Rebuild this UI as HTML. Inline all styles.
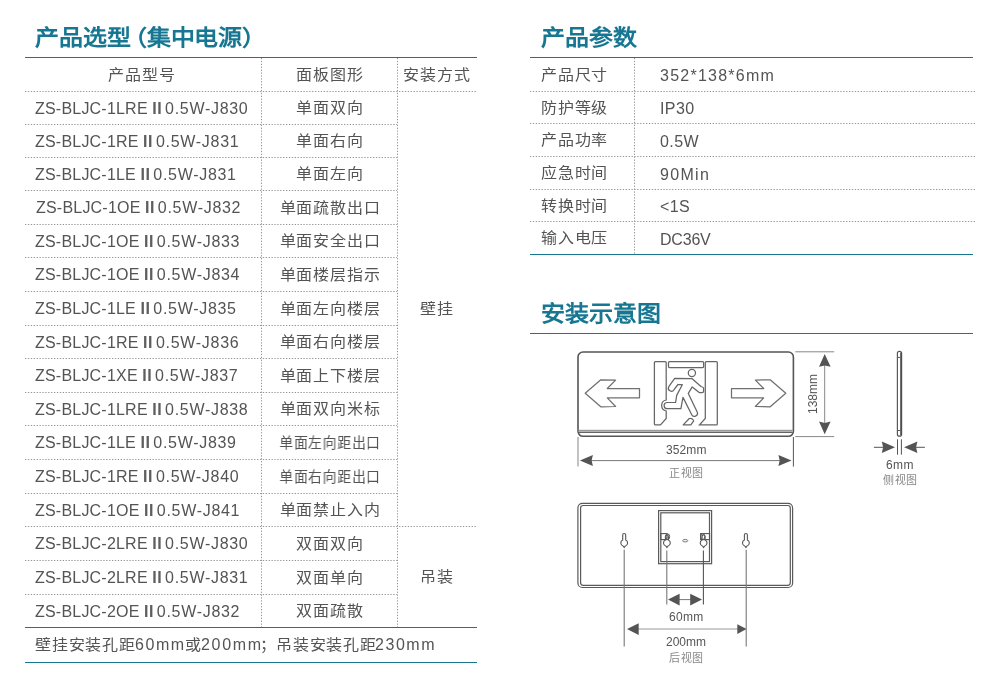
<!DOCTYPE html>
<html lang="zh-CN"><head><meta charset="utf-8"><title>产品选型</title>
<style>
html,body{margin:0;padding:0;background:#fff;}
body{width:994px;height:687px;position:relative;overflow:hidden;font-family:"Liberation Sans",sans-serif;color:#545454;}
.t{position:absolute;white-space:nowrap;will-change:transform;}
.h{font-weight:bold;color:#177792;font-size:22px;line-height:30px;letter-spacing:0px;transform:scaleX(1.09);transform-origin:0 0;}
.c{font-size:15px;letter-spacing:0.75px;line-height:20px;transform:scaleX(1.067);transform-origin:0 0;}
.cc{transform-origin:50% 0;}
.m{font-size:16px;letter-spacing:0.4px;line-height:20px;}
.cc{text-align:center;}
.ma{letter-spacing:0.21px}.mb{letter-spacing:0.7px}
.r{font-weight:bold;letter-spacing:0.55px;margin:0 2.9px 0 4.4px;color:#5e5e5e}
svg{position:absolute;left:0;top:0;}
.s{font-size:12px;line-height:14px;color:#555;}
.s2{font-size:11px;line-height:14px;color:#888;letter-spacing:0.5px;}
</style></head><body>

<div class="t h" style="left:35px;top:23px">产品选型<span style="margin-left:-7.7px">（集中电源）</span></div>
<div class="t h" style="left:540.5px;top:23px">产品参数</div>
<div class="t h" style="left:541px;top:299px">安装示意图</div>
<div class="t c cc" style="left:23.7px;width:236px;top:64.7px">产品型号</div>
<div class="t c cc" style="left:262px;width:136px;top:64.7px">面板图形</div>
<div class="t c cc" style="left:398px;width:78px;top:64.7px">安装方式</div>
<div class="t m" style="left:34.8px;top:98.8px"><span class="ma">ZS-BLJC-1LRE</span><b class="r">II</b><span class="mb">0.5W-J830</span></div>
<div class="t c cc" style="left:262px;width:136px;top:98.2px">单面双向</div>
<div class="t m" style="left:34.8px;top:131.8px"><span class="ma">ZS-BLJC-1RE</span><b class="r">II</b><span class="mb">0.5W-J831</span></div>
<div class="t c cc" style="left:262px;width:136px;top:131.2px">单面右向</div>
<div class="t m" style="left:34.8px;top:164.8px"><span class="ma">ZS-BLJC-1LE</span><b class="r">II</b><span class="mb">0.5W-J831</span></div>
<div class="t c cc" style="left:262px;width:136px;top:164.2px">单面左向</div>
<div class="t m" style="left:35.7px;top:198.3px"><span class="ma">ZS-BLJC-1OE</span><b class="r">II</b><span class="mb">0.5W-J832</span></div>
<div class="t c cc" style="left:262px;width:136px;top:197.7px">单面疏散出口</div>
<div class="t m" style="left:34.8px;top:231.8px"><span class="ma">ZS-BLJC-1OE</span><b class="r">II</b><span class="mb">0.5W-J833</span></div>
<div class="t c cc" style="left:262px;width:136px;top:231.2px">单面安全出口</div>
<div class="t m" style="left:34.8px;top:265.3px"><span class="ma">ZS-BLJC-1OE</span><b class="r">II</b><span class="mb">0.5W-J834</span></div>
<div class="t c cc" style="left:262px;width:136px;top:264.7px">单面楼层指示</div>
<div class="t m" style="left:34.8px;top:299.3px"><span class="ma">ZS-BLJC-1LE</span><b class="r">II</b><span class="mb">0.5W-J835</span></div>
<div class="t c cc" style="left:262px;width:136px;top:298.7px">单面左向楼层</div>
<div class="t m" style="left:34.8px;top:332.8px"><span class="ma">ZS-BLJC-1RE</span><b class="r">II</b><span class="mb">0.5W-J836</span></div>
<div class="t c cc" style="left:262px;width:136px;top:332.2px">单面右向楼层</div>
<div class="t m" style="left:34.8px;top:366.3px"><span class="ma">ZS-BLJC-1XE</span><b class="r">II</b><span class="mb">0.5W-J837</span></div>
<div class="t c cc" style="left:262px;width:136px;top:365.7px">单面上下楼层</div>
<div class="t m" style="left:34.8px;top:399.8px"><span class="ma">ZS-BLJC-1LRE</span><b class="r">II</b><span class="mb">0.5W-J838</span></div>
<div class="t c cc" style="left:262px;width:136px;top:399.2px">单面双向米标</div>
<div class="t m" style="left:34.8px;top:433.3px"><span class="ma">ZS-BLJC-1LE</span><b class="r">II</b><span class="mb">0.5W-J839</span></div>
<div class="t c cc" style="left:262px;width:136px;top:432.7px;transform:scaleX(0.922)">单面左向距出口</div>
<div class="t m" style="left:34.8px;top:467.3px"><span class="ma">ZS-BLJC-1RE</span><b class="r">II</b><span class="mb">0.5W-J840</span></div>
<div class="t c cc" style="left:262px;width:136px;top:466.7px;transform:scaleX(0.922)">单面右向距出口</div>
<div class="t m" style="left:34.8px;top:500.8px"><span class="ma">ZS-BLJC-1OE</span><b class="r">II</b><span class="mb">0.5W-J841</span></div>
<div class="t c cc" style="left:262px;width:136px;top:500.2px">单面禁止入内</div>
<div class="t m" style="left:34.8px;top:534.3px"><span class="ma">ZS-BLJC-2LRE</span><b class="r">II</b><span class="mb">0.5W-J830</span></div>
<div class="t c cc" style="left:262px;width:136px;top:533.7px">双面双向</div>
<div class="t m" style="left:34.8px;top:568.3px"><span class="ma">ZS-BLJC-2LRE</span><b class="r">II</b><span class="mb">0.5W-J831</span></div>
<div class="t c cc" style="left:262px;width:136px;top:567.7px">双面单向</div>
<div class="t m" style="left:34.8px;top:601.8px"><span class="ma">ZS-BLJC-2OE</span><b class="r">II</b><span class="mb">0.5W-J832</span></div>
<div class="t c cc" style="left:262px;width:136px;top:601.2px">双面疏散</div>
<div class="t c cc" style="left:398px;width:78px;top:299.2px">壁挂</div>
<div class="t c cc" style="left:398px;width:78px;top:567.2px">吊装</div>
<div class="t c" style="left:35.3px;top:634.5px">壁挂安装孔距</div>
<div class="t c" style="left:184.9px;top:634.5px">或</div>
<div class="t c" style="left:259.5px;top:634.5px">；</div>
<div class="t c" style="left:275.9px;top:634.5px">吊装安装孔距</div>
<div class="t m" style="left:134.6px;top:634.8px;letter-spacing:1.57px">60mm</div>
<div class="t m" style="left:200.8px;top:634.8px;letter-spacing:1.70px">200mm</div>
<div class="t m" style="left:374.8px;top:634.8px;letter-spacing:1.55px">230mm</div>
<div class="t c" style="left:541px;top:64.7px">产品尺寸</div>
<div class="t m" style="left:660px;top:66.3px;letter-spacing:1.24px">352*138*6mm</div>
<div class="t c" style="left:541px;top:97.7px">防护等级</div>
<div class="t m" style="left:660px;top:99.3px;letter-spacing:0.40px">IP30</div>
<div class="t c" style="left:541px;top:130.2px">产品功率</div>
<div class="t m" style="left:660px;top:131.8px;letter-spacing:0.40px">0.5W</div>
<div class="t c" style="left:541px;top:163.2px">应急时间</div>
<div class="t m" style="left:660px;top:164.8px;letter-spacing:1.30px">90Min</div>
<div class="t c" style="left:541px;top:195.7px">转换时间</div>
<div class="t m" style="left:660px;top:197.3px;letter-spacing:0.40px">&lt;1S</div>
<div class="t c" style="left:541px;top:228.2px">输入电压</div>
<div class="t m" style="left:660px;top:229.8px;letter-spacing:-0.20px">DC36V</div>
<div class="t s" style="left:665.6px;top:443px;letter-spacing:0.1px">352mm</div>
<div class="t s2" style="left:668.8px;top:466px">正视图</div>
<div class="t s" style="left:793px;top:387px;transform:rotate(-90deg);transform-origin:center">138mm</div>
<div class="t s" style="left:886px;top:458px;letter-spacing:0.4px">6mm</div>
<div class="t s2" style="left:883px;top:473px">侧视图</div>
<div class="t s" style="left:668.6px;top:610px;letter-spacing:0.3px">60mm</div>
<div class="t s" style="left:666px;top:635px">200mm</div>
<div class="t s2" style="left:669px;top:651px">后视图</div>
<svg width="994" height="687" viewBox="0 0 994 687"><rect x="25" y="57" width="452" height="1" fill="#177792"/><rect x="25" y="627" width="452" height="1" fill="#177792"/><rect x="25" y="662" width="452" height="1" fill="#177792"/><line x1="25.0" y1="91.5" x2="476.0" y2="91.5" stroke="#959595" stroke-width="1" stroke-dasharray="1.3 1.6"/><line x1="25.0" y1="124.5" x2="397.0" y2="124.5" stroke="#959595" stroke-width="1" stroke-dasharray="1.3 1.6"/><line x1="25.0" y1="157.5" x2="397.0" y2="157.5" stroke="#959595" stroke-width="1" stroke-dasharray="1.3 1.6"/><line x1="25.0" y1="190.5" x2="397.0" y2="190.5" stroke="#959595" stroke-width="1" stroke-dasharray="1.3 1.6"/><line x1="25.0" y1="224.5" x2="397.0" y2="224.5" stroke="#959595" stroke-width="1" stroke-dasharray="1.3 1.6"/><line x1="25.0" y1="257.5" x2="397.0" y2="257.5" stroke="#959595" stroke-width="1" stroke-dasharray="1.3 1.6"/><line x1="25.0" y1="291.5" x2="397.0" y2="291.5" stroke="#959595" stroke-width="1" stroke-dasharray="1.3 1.6"/><line x1="25.0" y1="325.5" x2="397.0" y2="325.5" stroke="#959595" stroke-width="1" stroke-dasharray="1.3 1.6"/><line x1="25.0" y1="358.5" x2="397.0" y2="358.5" stroke="#959595" stroke-width="1" stroke-dasharray="1.3 1.6"/><line x1="25.0" y1="392.5" x2="397.0" y2="392.5" stroke="#959595" stroke-width="1" stroke-dasharray="1.3 1.6"/><line x1="25.0" y1="425.5" x2="397.0" y2="425.5" stroke="#959595" stroke-width="1" stroke-dasharray="1.3 1.6"/><line x1="25.0" y1="459.5" x2="397.0" y2="459.5" stroke="#959595" stroke-width="1" stroke-dasharray="1.3 1.6"/><line x1="25.0" y1="493.5" x2="397.0" y2="493.5" stroke="#959595" stroke-width="1" stroke-dasharray="1.3 1.6"/><line x1="25.0" y1="526.5" x2="476.0" y2="526.5" stroke="#959595" stroke-width="1" stroke-dasharray="1.3 1.6"/><line x1="25.0" y1="560.5" x2="397.0" y2="560.5" stroke="#959595" stroke-width="1" stroke-dasharray="1.3 1.6"/><line x1="25.0" y1="594.5" x2="397.0" y2="594.5" stroke="#959595" stroke-width="1" stroke-dasharray="1.3 1.6"/><line x1="261.5" y1="58.0" x2="261.5" y2="627.0" stroke="#959595" stroke-width="1" stroke-dasharray="1.3 1.6"/><line x1="397.5" y1="58.0" x2="397.5" y2="627.0" stroke="#959595" stroke-width="1" stroke-dasharray="1.3 1.6"/><rect x="530" y="57" width="443" height="1" fill="#177792"/><rect x="530" y="254" width="443" height="1" fill="#177792"/><line x1="530.0" y1="91.5" x2="975.0" y2="91.5" stroke="#959595" stroke-width="1" stroke-dasharray="1.3 1.6"/><line x1="530.0" y1="123.5" x2="975.0" y2="123.5" stroke="#959595" stroke-width="1" stroke-dasharray="1.3 1.6"/><line x1="530.0" y1="156.5" x2="975.0" y2="156.5" stroke="#959595" stroke-width="1" stroke-dasharray="1.3 1.6"/><line x1="530.0" y1="189.5" x2="975.0" y2="189.5" stroke="#959595" stroke-width="1" stroke-dasharray="1.3 1.6"/><line x1="530.0" y1="221.5" x2="975.0" y2="221.5" stroke="#959595" stroke-width="1" stroke-dasharray="1.3 1.6"/><line x1="634.5" y1="58.0" x2="634.5" y2="254.0" stroke="#959595" stroke-width="1" stroke-dasharray="1.3 1.6"/><rect x="530" y="333" width="443" height="1" fill="#177792"/><rect x="578" y="352" width="215.4" height="84.3" rx="5" ry="5" fill="none" stroke="#555" stroke-width="1.6"/><rect x="578.7" y="430" width="214" height="2.4" fill="#bdbdbd"/><line x1="578.7" y1="430.3" x2="792.7" y2="430.3" stroke="#8a8a8a" stroke-width="0.9"/><line x1="578.7" y1="432.4" x2="792.7" y2="432.4" stroke="#555" stroke-width="1"/><polygon points="585.2,393.3 600.8,379.8 615.6,380.1 607.3,388.5 639.5,388.5 639.5,397.8 607.3,397.9 615.6,406.5 600.8,406.8" fill="none" stroke="#707070" stroke-width="1.25" stroke-linejoin="round"/><polygon points="785.8,393.3 770.2,379.8 755.4,380.1 763.7,388.5 731.5,388.5 731.5,397.8 763.7,397.9 755.4,406.5 770.2,406.8" fill="none" stroke="#707070" stroke-width="1.25" stroke-linejoin="round"/><path d="M655.4,361.5 H665.2 Q666.2,361.5 666.2,362.5 V400 A5.6,5.6 0 0 0 666.2,411 V418.5 L660.5,424.9 H655.4 Q654.4,424.9 654.4,423.9 V362.5 Q654.4,361.5 655.4,361.5 Z" fill="none" stroke="#666" stroke-width="1.25"/><rect x="668.5" y="361.5" width="35.1" height="6" rx="1" fill="none" stroke="#666" stroke-width="1.25"/><path d="M706.3,361.5 H716.3 Q717.3,361.5 717.3,362.5 V423.9 Q717.3,424.9 716.3,424.9 H699.5 L705.3,418.5 V362.5 Q705.3,361.5 706.3,361.5 Z" fill="none" stroke="#666" stroke-width="1.25"/><circle cx="691.9" cy="372.9" r="3.6" fill="none" stroke="#666" stroke-width="1.25"/><path d="M674.7,378.4 L691.9,378.5 L701,386.5 Q703.6,387 703.6,388.6 L703.6,391.2 Q703.6,392.6 702,392.6 L699.2,392.6 L692.2,386.9 L688.3,393.4 L697.2,412.1 A2.9,2.9 0 0 1 691.6,414.5 L683,397.4 L680.9,408.6 L667.5,408.6 A3,3 0 0 1 666.9,402.5 L675.6,402.4 L676.7,395.4 L682.3,384.7 L678,384.5 L674,389.7 A2.6,2.6 0 0 1 668.8,386.7 Z" fill="none" stroke="#666" stroke-width="1.25" stroke-linejoin="round"/><path d="M683.2,424.9 L689.3,418.5 Q692.5,417.6 693.7,420.9 L690.8,424.9 Z" fill="none" stroke="#666" stroke-width="1.25" stroke-linejoin="round"/><line x1="578" y1="437" x2="578" y2="466.6" stroke="#999" stroke-width="1.2"/><line x1="793.4" y1="437" x2="793.4" y2="466.6" stroke="#555" stroke-width="1"/><line x1="590" y1="460.6" x2="781" y2="460.6" stroke="#777" stroke-width="1"/><path d="M579.9,460.6 L592.9,455.1 L591.6,460.6 L592.9,466.1 Z" fill="#545456"/><path d="M791.5,460.6 L778.4,455.1 L779.7,460.6 L778.4,466.1 Z" fill="#545456"/><line x1="795.3" y1="351.8" x2="834.2" y2="351.8" stroke="#888" stroke-width="1"/><line x1="795.3" y1="436.6" x2="834.2" y2="436.6" stroke="#888" stroke-width="1"/><line x1="824.7" y1="364" x2="824.7" y2="424" stroke="#888" stroke-width="1"/><path d="M824.7,353.9 L830.6,366.7 L824.7,365.4 L819,366.7 Z" fill="#545456"/><path d="M824.7,434.2 L830.6,421.6 L824.7,422.9 L819,421.6 Z" fill="#545456"/><rect x="897.4" y="351.3" width="4.2" height="84.9" rx="2" fill="none" stroke="#5a5a5a" stroke-width="1.2"/><line x1="901" y1="352.5" x2="901" y2="435" stroke="#4a4a4a" stroke-width="1.6"/><line x1="898" y1="357.4" x2="900" y2="357.4" stroke="#555" stroke-width="1"/><line x1="898" y1="430.5" x2="900" y2="430.5" stroke="#555" stroke-width="1"/><line x1="897.5" y1="439.3" x2="897.5" y2="454.7" stroke="#555" stroke-width="1"/><line x1="901.4" y1="439.3" x2="901.4" y2="454.7" stroke="#555" stroke-width="1"/><line x1="873.9" y1="447.3" x2="884" y2="447.3" stroke="#555" stroke-width="1"/><line x1="915" y1="447.3" x2="924.9" y2="447.3" stroke="#555" stroke-width="1"/><path d="M895,447.3 L881.8,441.5 L883.1,447.3 L881.8,453 Z" fill="#545456"/><path d="M904.1,447.3 L917.4,441.5 L916.1,447.3 L917.4,453 Z" fill="#545456"/><rect x="577.9" y="503.4" width="214.7" height="84.1" rx="4.5" fill="none" stroke="#5a5a5a" stroke-width="1.2"/><rect x="580.6" y="505.5" width="209.7" height="79.8" rx="2.5" fill="none" stroke="#5a5a5a" stroke-width="1.2"/><rect x="658.6" y="510.6" width="53" height="53.1" fill="none" stroke="#5a5a5a" stroke-width="1.2"/><rect x="660.8" y="512.8" width="48.7" height="48.8" fill="none" stroke="#5a5a5a" stroke-width="1.2"/><path d="M622.7,540 V535.0 A1.5,1.5 0 0 1 625.7,535.0 V540 A3.3,3.3 0 0 1 625.1,546.2 L624.2,547.6 L623.3,546.2 A3.3,3.3 0 0 1 622.7,540 Z" fill="none" stroke="#555" stroke-width="1.1"/><path d="M744.4,540 V535.0 A1.5,1.5 0 0 1 747.4,535.0 V540 A3.3,3.3 0 0 1 746.8,546.2 L745.9,547.6 L745.0,546.2 A3.3,3.3 0 0 1 744.4,540 Z" fill="none" stroke="#555" stroke-width="1.1"/><path d="M665.4,540 V536.5 A1.5,1.5 0 0 1 668.4,536.5 V540 A3.3,3.3 0 0 1 667.8,546.2 L666.9,547.6 L666.0,546.2 A3.3,3.3 0 0 1 665.4,540 Z" fill="none" stroke="#555" stroke-width="1.1"/><path d="M702.1,540 V536.5 A1.5,1.5 0 0 1 705.1,536.5 V540 A3.3,3.3 0 0 1 704.5,546.2 L703.6,547.6 L702.7,546.2 A3.3,3.3 0 0 1 702.1,540 Z" fill="none" stroke="#555" stroke-width="1.1"/><rect x="660.8" y="533.6" width="6.2" height="6" fill="none" stroke="#555" stroke-width="1.1"/><rect x="700.6" y="533.6" width="9" height="6" fill="none" stroke="#555" stroke-width="1.1"/><ellipse cx="667.7" cy="536.7" rx="2" ry="2.8" fill="none" stroke="#555" stroke-width="1"/><ellipse cx="702.8" cy="536.7" rx="2" ry="2.8" fill="none" stroke="#555" stroke-width="1"/><ellipse cx="685.2" cy="540.7" rx="2.6" ry="1.2" fill="none" stroke="#666" stroke-width="0.9"/><line x1="624.2" y1="549.8" x2="624.2" y2="646.6" stroke="#777" stroke-width="1.1"/><line x1="746.2" y1="549.8" x2="746.2" y2="646.6" stroke="#777" stroke-width="1.1"/><line x1="666.8" y1="550.6" x2="666.8" y2="604.6" stroke="#777" stroke-width="1.1"/><line x1="703.4" y1="550.6" x2="703.4" y2="604.6" stroke="#555" stroke-width="1.1"/><line x1="679" y1="599.6" x2="691" y2="599.6" stroke="#777" stroke-width="1"/><path d="M668,599.6 L679.6,593.8 L679.6,605.6 Z" fill="#545456"/><path d="M702,599.6 L690.2,593.8 L690.2,605.6 Z" fill="#545456"/><line x1="638" y1="629" x2="738" y2="629" stroke="#999" stroke-width="1.1"/><path d="M627,629.1 L638.7,623.2 L638.7,634.9 Z" fill="#545456"/><path d="M746.5,629 L737.3,624.2 L737.3,633.9 Z" fill="#545456"/></svg>
</body></html>
